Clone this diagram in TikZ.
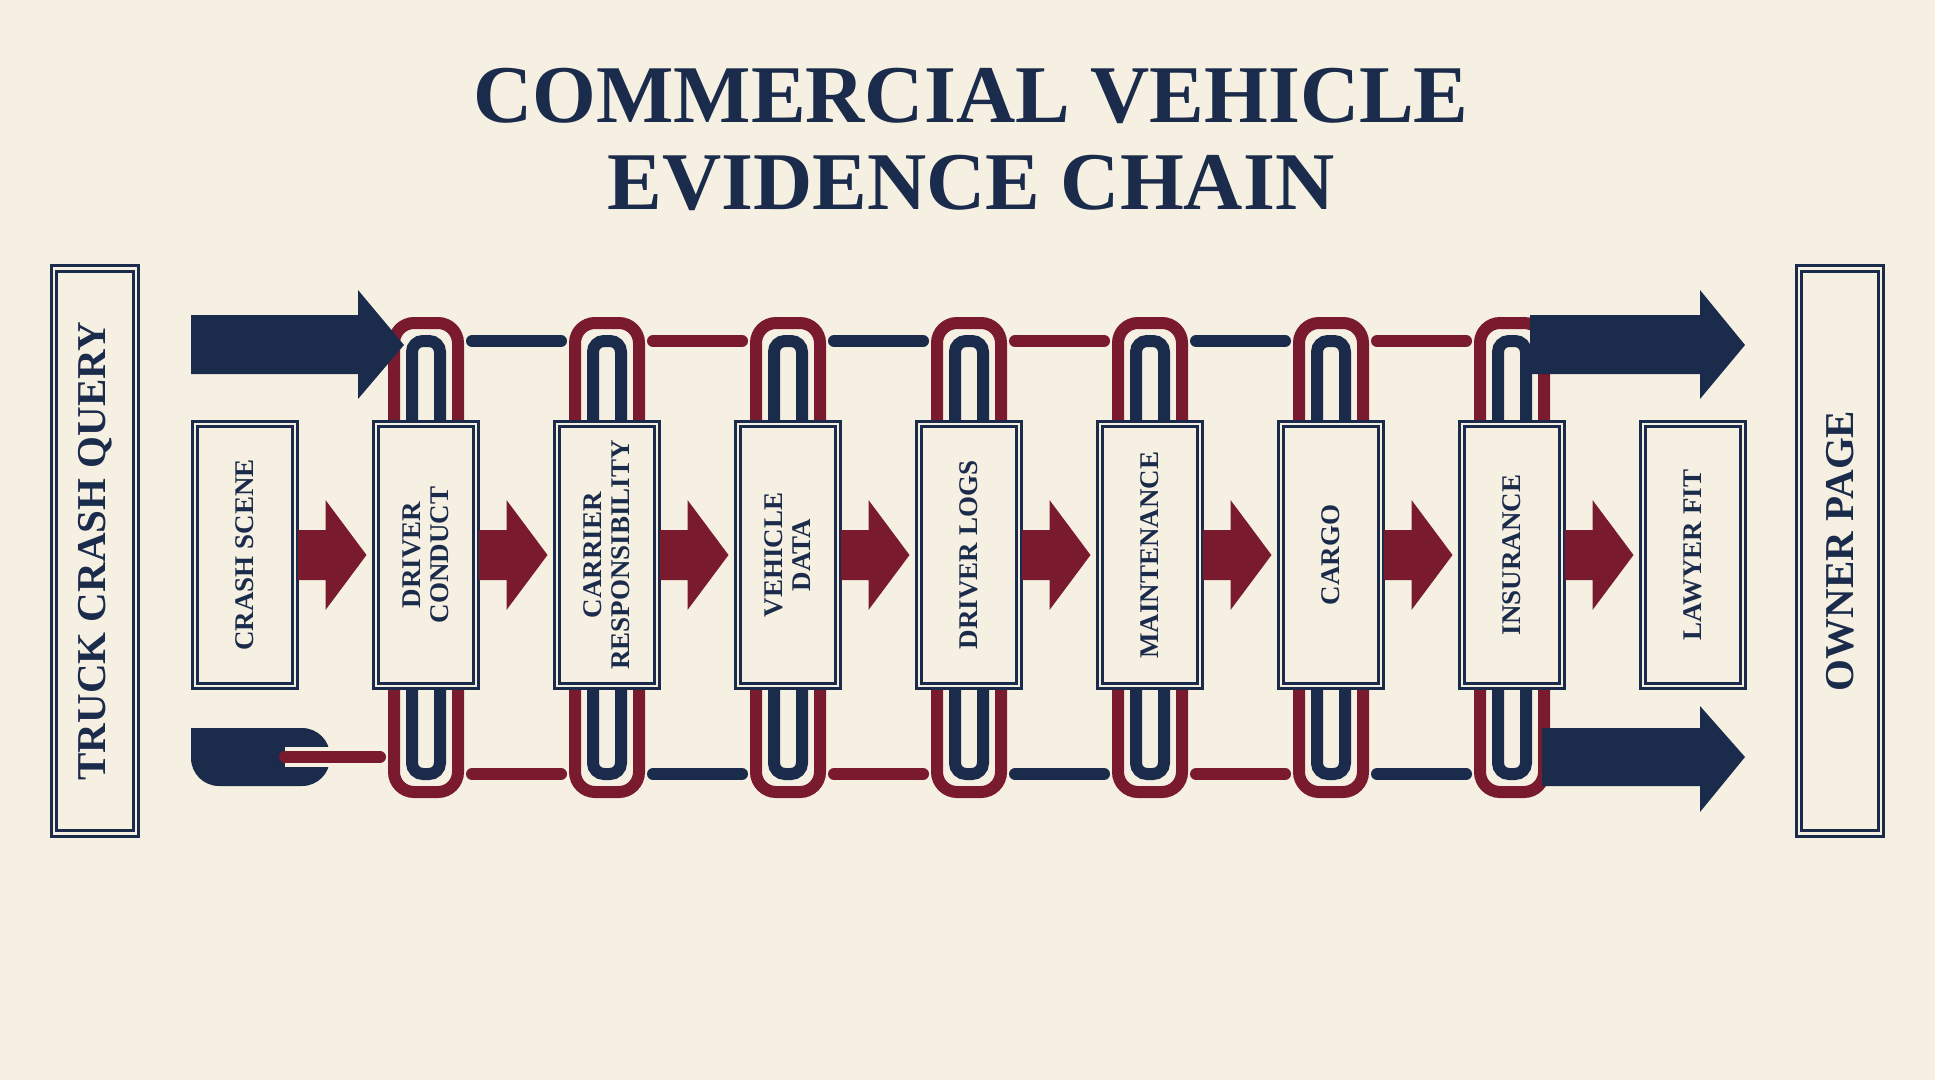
\documentclass[tikz,border=0pt]{standalone}
\usepackage{fontspec}
\setmainfont{Liberation Serif}
\usetikzlibrary{calc}
\definecolor{navy}{HTML}{1B2B4B}
\definecolor{wine}{HTML}{7A1A2E}
\definecolor{bg}{HTML}{F5F0E1}
\tikzset{
 chr/.style={preaction={draw=bg,line width=20pt},draw=wine,line width=12pt,rounded corners=20pt,line cap=round},
 chn/.style={preaction={draw=bg,line width=20pt},draw=navy,line width=12pt,rounded corners=20pt,line cap=round},
 stepbox/.style={draw=navy,line width=3pt,double=bg,double distance=2.5pt,fill=bg,minimum width=100pt,minimum height=262pt,inner sep=0pt},
 lbl/.style={rotate=90,align=center,font=\bfseries\fontsize{27}{28}\selectfont,text=navy},
 sidebox/.style={draw=navy,line width=3.2pt,double=bg,double distance=2.5pt,fill=bg,minimum width=82pt,minimum height=565pt},
 sidelbl/.style={rotate=90,font=\bfseries\fontsize{41}{44}\selectfont,text=navy},
}
\begin{document}
\begin{tikzpicture}[x=1pt,y=-1pt]
\useasboundingbox (0,0) rectangle (1935,1080);
\fill[bg] (0,0) rectangle (1935,1080);
\node[font=\bfseries\fontsize{82}{82}\selectfont,text=navy] (title) at (971,96) {COMMERCIAL VEHICLE};
\node[font=\bfseries\fontsize{82}{82}\selectfont,text=navy] (title2) at (971,183) {EVIDENCE CHAIN};
\node[sidebox] (q) at (95,551) {};
\node[sidelbl] at (q) {TRUCK CRASH QUERY};
\node[sidebox] (o) at (1840,551) {};
\node[sidelbl] at (o) {OWNER PAGE};
% chains behind boxes
\foreach \i in {2,...,8}{
  \pgfmathsetmacro{\cx}{245+181*(\i-1)}
  \draw[chr] (\cx-32,792) -- (\cx-32,323) -- (\cx+32,323) -- (\cx+32,792) -- cycle;
  \draw[chn,rounded corners=11pt] (\cx-14,774) -- (\cx-14,341) -- (\cx+14,341) -- (\cx+14,774) -- cycle;
}
\foreach \i/\ca/\cb in {2/chn/chr,3/chr/chn,4/chn/chr,5/chr/chn,6/chn/chr,7/chr/chn}{
  \pgfmathsetmacro{\cx}{245+181*(\i-1)}
  \draw[\ca] (\cx+46,341) -- (\cx+135,341);
  \draw[\cb] (\cx+46,774) -- (\cx+135,774);
}
% big navy arrows
\fill[navy] (191,315) -- (358,315) -- (358,290) -- (404,345) -- (358,399) -- (358,374) -- (191,374) -- cycle;
\fill[navy] (1530,315) -- (1700,315) -- (1700,290) -- (1745,345) -- (1700,399) -- (1700,374) -- (1530,374) -- cycle;
\fill[navy,rounded corners=28pt] (191,728) -- (330,728) -- (330,786) -- (191,786) [sharp corners] -- cycle;
\fill[navy] (1542,728) -- (1700,728) -- (1700,706) -- (1745,757) -- (1700,812) -- (1700,786) -- (1542,786) -- cycle;
\draw[chr] (285,757) -- (380,757);
% boxes
\foreach \i/\t in {1/CRASH SCENE,2/DRIVER\\CONDUCT,3/CARRIER\\RESPONSIBILITY,4/VEHICLE\\DATA,5/DRIVER LOGS,6/MAINTENANCE,7/CARGO,8/INSURANCE,9/LAWYER FIT}{
  \pgfmathsetmacro{\cx}{245+181*(\i-1)}
  \node[stepbox] (b\i) at (\cx,555) {};
  \node[lbl] at (b\i) {\t};
}
% red arrows
\foreach \i [evaluate=\i as \j using int(\i+1)] in {1,...,8}{
  \fill[wine] ($(b\i.east)+(1.5,-25)$) -- ($(b\i.east)+(29,-25)$) -- ($(b\i.east)+(29,-55)$) -- ($(b\j.west)+(-8,0)$) -- ($(b\i.east)+(29,55)$) -- ($(b\i.east)+(29,25)$) -- ($(b\i.east)+(1.5,25)$) -- cycle;
}
\end{tikzpicture}
\end{document}
